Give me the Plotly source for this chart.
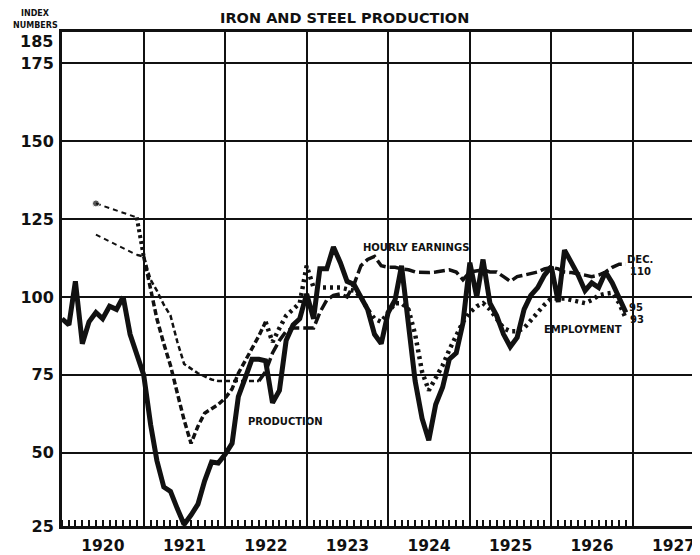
import pandas as pd
import plotly.graph_objects as go

# ---------------- data (index numbers, monthly Jan 1920 .. Dec 1926) ----------------
months = pd.date_range("1920-01-01", "1926-12-01", freq="MS")
y_ticks = [26.5, 50, 75, 100, 125, 150, 175]
y_tick_text = ["25", "50", "75", "100", "125", "150", "175"]
y_top = 185

production = [
    93, 91, 105, 85, 92, 95, 93, 97, 96, 100, 88, 81,            # 1920
    75, 59, 47.5, 39, 37.6, 32, 27, 30, 33.5, 41, 47, 46.7,      # 1921
    49.5, 53, 68, 74, 80, 80, 79.5, 66, 70, 86, 91, 93,          # 1922
    101, 93, 109, 109, 116, 111, 105, 104, 100, 96, 88, 85,      # 1923
    95, 99, 110, 92, 73, 61, 54, 65.5, 71, 80, 82, 91.6,         # 1924
    111, 100, 112, 98, 94, 88, 84, 87, 96, 100.5, 103, 107,      # 1925
    109.7, 98.4, 115, 111, 107, 102, 104.5, 103, 108, 104.5, 100, 95,  # 1926
]

employment = [
    None, None, None, None, None, 130, None, None, None, None, None, 125.5,  # 1920
    113, 103, 93, 85, 78, 69, 60.5, 53, 58.5, 62.7, 64, 65.5,    # 1921
    67.5, 70.5, 75.5, 79.5, 83, 87.5, 92, 85.5, 90, 94, 96, 98,  # 1922
    110, 103, 103, 103, 103, 103, 102.5, 102, 100, 96, 93, 92,   # 1923
    95, 98, 98, 96, 88, 76, 70, 74, 78, 83, 88, 92,              # 1924
    95, 97, 98, 96, 93, 90, 89, 89, 90, 92.5, 95, 97.5,          # 1925
    99.5, 99.5, 99.5, 99, 98.5, 98, 99, 100.5, 101, 101.3, 98, 93,  # 1926
]

earnings = [
    None, None, None, None, None, 120, None, None, None, None, None, 113.5,  # 1920
    113, 105.5, 102, 97.5, 94, 85.5, 78.5, 77, 75.5, 74.5, 73.5, 73,  # 1921
    73, 73, 73, 73, 73, 73, 76, 82, 86, 89, 90, 90,              # 1922
    90, 90, 95, 99, 100.5, 101, 100, 104, 110, 112, 113, 110,    # 1923
    109.5, 109.5, 109, 108.7, 108, 107.8, 107.8, 108, 108.5, 108.7, 108, 105.5,  # 1924
    108, 108.5, 108.7, 108, 108, 106.5, 105, 106.5, 107, 107.5, 108, 109,  # 1925
    109.5, 109, 108, 107.8, 107.5, 107, 106.5, 107, 108, 109.5, 110.5, 110.5,  # 1926
]

FONT = "DejaVu Sans"
BLACK = "#111111"


def seg(vals, a, b):
    return list(months[a:b + 1]), vals[a:b + 1]


fig = go.Figure()


def add_line(vals, a, b, width, dash, markers=None):
    xs, ys = seg(vals, a, b)
    fig.add_trace(go.Scatter(
        x=xs, y=ys, mode="lines+markers" if markers else "lines",
        connectgaps=True,
        line=dict(color=BLACK, width=width, dash=dash),
        marker=dict(size=markers, color=BLACK) if markers else None,
        showlegend=False, hoverinfo="skip",
    ))


# hourly earnings (dashed)
add_line(earnings, 5, 11, 2, "5px,4px")
add_line(earnings, 11, 29, 2.5, "5px,3px")
add_line(earnings, 29, 83, 3.5, "11px,4px")

# employment (dotted)
add_line(employment, 5, 11, 2, "5px,4px", markers=[7] + [0] * 6)
add_line(employment, 11, 12, 4, "3px,3px")
add_line(employment, 12, 30, 3.5, "6px,3px")
add_line(employment, 30, 83, 4.5, "3px,4px")

# production (heavy solid)
add_line(production, 0, 83, 5, "solid")

ann_font = dict(family=FONT, size=10, color=BLACK, weight="bold")
labels = [
    ("HOURLY EARNINGS", "1924-05-05", 116.0),
    ("PRODUCTION", "1922-09-26", 59.9),
    ("EMPLOYMENT", "1926-05-24", 89.7),
    ("DEC.", "1927-02-03", 111.9),
    ("110", "1927-02-03", 108.3),
    ("95", "1927-01-14", 96.5),
    ("93", "1927-01-20", 92.9),
]
for text, xv, yv in labels:
    fig.add_annotation(x=xv, y=yv, xref="x", yref="y", text=text, showarrow=False,
                       font=ann_font, xanchor="center", yanchor="middle")

# top value of the scale, printed just under the frame as in the original
fig.add_annotation(x=-0.011, y=y_top - 3, xref="paper", yref="y", text=str(y_top),
                   showarrow=False, xanchor="right", yanchor="middle",
                   font=dict(family=FONT, size=16, color=BLACK, weight="bold"))

small_font = dict(family=FONT, size=8, color=BLACK, weight="bold")
fig.add_annotation(x=-0.0423, y=1.037, xref="paper", yref="paper", text="INDEX",
                   showarrow=False, font=small_font, xanchor="center", yanchor="middle")
fig.add_annotation(x=-0.0423, y=1.014, xref="paper", yref="paper", text="NUMBERS",
                   showarrow=False, font=small_font, xanchor="center", yanchor="middle")

minor_ticks = list(pd.date_range("1920-01-01", "1927-01-01", freq="MS"))

fig.update_layout(
    width=700, height=555,
    margin=dict(l=54, r=8, t=23.5, b=37, pad=0, autoexpand=False),
    paper_bgcolor="white", plot_bgcolor="white",
    title=dict(text="IRON AND STEEL PRODUCTION", x=0.481, y=0.983,
               xanchor="center", yanchor="middle", automargin=False,
               font=dict(family=FONT, size=14.5, color=BLACK, weight="bold")),
    xaxis=dict(
        type="date", range=["1920-01-01", "1927-10-29"],
        tick0="1920-01-01", dtick="M12", ticklabelmode="period", tickformat="%Y",
        showgrid=True, gridcolor=BLACK, gridwidth=2, automargin=False,
        ticks="", showline=True, linecolor=BLACK, linewidth=2.5, mirror=True,
        tickfont=dict(family=FONT, size=15.5, color=BLACK, weight="bold"),
        ticklabelstandoff=4,
        minor=dict(tickmode="array", tickvals=minor_ticks, ticks="inside",
                   ticklen=6, tickwidth=1.5, tickcolor=BLACK, showgrid=False),
        zeroline=False,
    ),
    yaxis=dict(
        range=[26.5, y_top], tickmode="array", tickvals=y_ticks, ticktext=y_tick_text,
        showgrid=True, gridcolor=BLACK, gridwidth=2, automargin=False,
        ticks="", showline=True, linecolor=BLACK, linewidth=3,
        tickfont=dict(family=FONT, size=16, color=BLACK, weight="bold"),
        ticklabelstandoff=2, zeroline=False,
    ),
)

fig.write_html("out.html")
